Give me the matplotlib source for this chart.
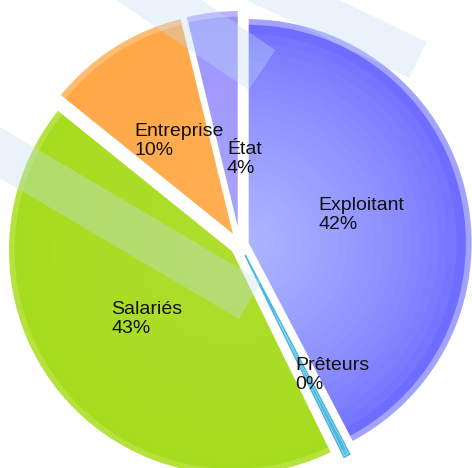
#!/usr/bin/env python
# -*- coding: utf-8 -*-
import numpy as np
from matplotlib import pyplot as plt
from matplotlib.colors import to_rgb
from matplotlib.patches import Polygon

plt.rcParams['font.family'] = ['Liberation Sans', 'DejaVu Sans']

# data
labels = ['Exploitant', 'Prêteurs', 'Salariés', 'Entreprise', 'État']
values = [42.3, 0.45, 43.05, 10.4, 3.8]
explode = [0.035, 0.05, 0.04, 0.045, 0.045]

# style: (rim, edge, centre) colours per slice
rim_col = ['#a2a2ff', '#5fc3e6', '#b6e23e', '#ffbd72', '#b8b2ff']
edge_col = ['#6f6dff', '#4ab8de', '#a6dc1e', '#ffa848', '#9a94ff']
mid_col = ['#adb4ff', '#55bfe4', '#aede2c', '#ffae52', '#a8a2ff']
# label placement: distance (radius units) and angle tweak (deg, clockwise)
label_dist = [0.52, 0.66, 0.49, 0.49, 0.34]
label_turn = [0, -9, 0, 2, 11]

W, H = 472, 468
cx, cy, R = 240, 245, 225   # pie centre / radius in pixels

fig = plt.figure(figsize=(W / 100, H / 100), dpi=100)
ax = fig.add_axes([0, 0, 1, 1])
ax.axis('off')


def mix(c1, c2, t):
    a, b = np.array(to_rgb(c1)), np.array(to_rgb(c2))
    return tuple(a + (b - a) * t)


def strip(x0, y0, x1, y1, w):
    # rectangle around a centre line, in pixels from the top-left corner
    d = np.array([x1 - x0, y1 - y0], float)
    d /= np.hypot(*d)
    p = np.array([-d[1], d[0]]) * w / 2
    pts = [np.array([x0, y0]) + p, np.array([x1, y1]) + p,
           np.array([x1, y1]) - p, np.array([x0, y0]) - p]
    return [(x / W, 1 - y / H) for x, y in pts]


pie_kw = dict(explode=explode, startangle=90, counterclock=False)

# outer rim (lighter)
wedges, _ = ax.pie(values, colors=rim_col, radius=1.0,
                   wedgeprops=dict(linewidth=0), **pie_kw)
# radial gradient, drawn as stacked pies
n = 24
for k in range(n):
    t = k / (n - 1)
    r = 0.97 - 0.93 * t
    cols = [mix(edge_col[i], mid_col[i], t ** 0.7) for i in range(len(values))]
    ax.pie(values, colors=cols, radius=r, wedgeprops=dict(linewidth=0), **pie_kw)
# white separators
ax.pie(values, colors=['none'] * len(values), radius=1.0,
       wedgeprops=dict(linewidth=1.5, edgecolor='white', fill=False), **pie_kw)
# the tiny "Prêteurs" slice drawn a bit thicker
ax.pie(values, colors=['none'] * len(values), radius=1.0,
       wedgeprops=dict(linewidth=1.2, fill=False), **pie_kw)[0]
for i, w in enumerate(ax.patches[-len(values):]):
    w.set_edgecolor(edge_col[1] if i == 1 else 'none')

# watermark stripes
stripes = [
    (100, -40, 262, 70, 48),
    (-30, 135, 250, 300, 44),
    (220, -35, 418, 60, 40),
]
for s in stripes:
    ax.add_patch(Polygon(strip(*s), closed=True, transform=fig.transFigure,
                         facecolor='#c4dcf6', edgecolor='none', alpha=0.35,
                         zorder=5))

# labels
for i, w in enumerate(wedges):
    mid = np.deg2rad((w.theta1 + w.theta2) / 2 - label_turn[i])
    x0, y0 = w.center
    x = x0 + label_dist[i] * np.cos(mid)
    y = y0 + label_dist[i] * np.sin(mid)
    pct = '%.0f%%' % round(values[i])
    ax.text(x, y, labels[i] + '\n' + pct, ha='center', va='center',
            multialignment='left', fontsize=14, color='#111111', zorder=10,
            linespacing=1.15)

ax.set_xlim(-cx / R, (W - cx) / R)
ax.set_ylim(-(H - cy) / R, cy / R)
ax.set_aspect('auto')

plt.savefig('out.png', dpi=100)
